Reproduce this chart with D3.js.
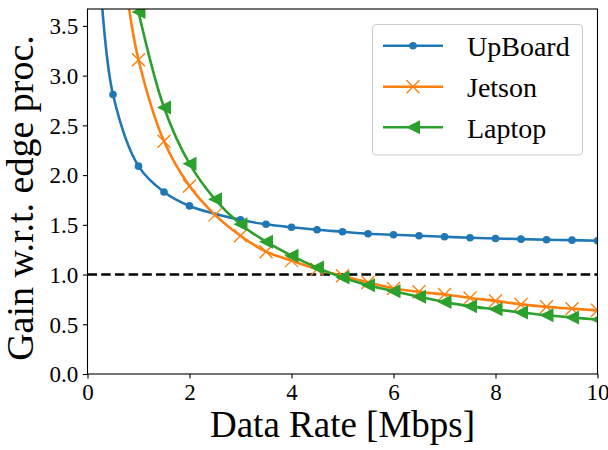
<!DOCTYPE html>
<html>
<head>
<meta charset="utf-8">
<script src="https://cdn.jsdelivr.net/npm/d3@7"></script>
<style>
  html, body { margin: 0; padding: 0; background: #fff; }
  svg { display: block; }
  text { font-family: "Liberation Serif", "Times New Roman", serif; fill: #000; }
</style>
</head>
<body>
<svg id="chart" width="608" height="450"></svg>
<script>
// Gain with respect to edge processing vs. data rate, per device
const upboardRates = [0.5, 1, 1.5, 2, 3, 3.5, 4, 4.5, 5, 5.5, 6, 6.5, 7, 7.5, 8, 8.5, 9, 9.5, 10];
const upboardGain  = [2.81, 2.09, 1.83, 1.69, 1.55, 1.505, 1.475, 1.45, 1.43, 1.41, 1.40, 1.39, 1.38, 1.37, 1.363, 1.356, 1.35, 1.346, 1.34];
const upboardLead  = [0.28, 3.75];

const jetsonRates = [1, 1.5, 2, 2.5, 3, 3.5, 4, 4.5, 5, 5.5, 6, 6.5, 7, 7.5, 8, 8.5, 9, 9.5, 10];
const jetsonGain  = [3.16, 2.34, 1.89, 1.60, 1.39, 1.23, 1.14, 1.054, 0.987, 0.92, 0.86, 0.826, 0.80, 0.765, 0.735, 0.70, 0.675, 0.657, 0.64];
const jetsonLead  = [0.8, 3.73];

const laptopRates = [1, 1.5, 2, 2.5, 3, 3.5, 4, 4.5, 5, 5.5, 6, 6.5, 7, 7.5, 8, 8.5, 9, 9.5, 10];
const laptopGain  = [3.64, 2.68, 2.115, 1.756, 1.506, 1.33, 1.19, 1.07, 0.97, 0.893, 0.833, 0.777, 0.725, 0.68, 0.65, 0.618, 0.59, 0.568, 0.548];
const laptopLead  = [0.9, 3.9];

const seriesNames  = ["UpBoard", "Jetson", "Laptop"];
const seriesColors = ["#1f77b4", "#ff7f0e", "#2ca02c"];
const xTicks = [0, 2, 4, 6, 8, 10];
const yTicks = [0, 0.5, 1.0, 1.5, 2.0, 2.5, 3.0, 3.5];
const baseline = 1.0;

const series = [
  { name: seriesNames[0], color: seriesColors[0], marker: "circle", rates: upboardRates, gain: upboardGain, lead: upboardLead },
  { name: seriesNames[1], color: seriesColors[1], marker: "x",      rates: jetsonRates,  gain: jetsonGain,  lead: jetsonLead },
  { name: seriesNames[2], color: seriesColors[2], marker: "tri",    rates: laptopRates,  gain: laptopGain,  lead: laptopLead }
];

const svg = d3.select("#chart");
const plotLeft = 87.5, plotRight = 597.5, plotTop = 9, plotBottom = 374;

const x = d3.scaleLinear().domain([0, 10]).range([plotLeft, plotRight]);
const y = d3.scaleLinear().domain([0, 3.67]).range([plotBottom, plotTop]);

svg.append("defs").append("clipPath").attr("id", "plotClip")
  .append("rect").attr("x", plotLeft).attr("y", plotTop)
  .attr("width", plotRight - plotLeft).attr("height", plotBottom - plotTop);

const plot = svg.append("g").attr("clip-path", "url(#plotClip)");

// reference line at gain = 1
plot.append("line")
  .attr("x1", x(0)).attr("x2", x(10))
  .attr("y1", y(baseline)).attr("y2", y(baseline))
  .attr("stroke", "#000").attr("stroke-width", 2.6)
  .attr("stroke-dasharray", "9.5,4.2");

const line = d3.line()
  .x(d => x(d[0])).y(d => y(d[1]))
  .curve(d3.curveCatmullRom.alpha(0.5));

function drawMarker(g, type, color, cx, cy) {
  if (type === "circle") {
    g.append("circle").attr("cx", cx).attr("cy", cy).attr("r", 3.8).attr("fill", color);
  } else if (type === "x") {
    const s = 6.5;
    g.append("path")
      .attr("d", `M${cx - s},${cy - s}L${cx + s},${cy + s}M${cx - s},${cy + s}L${cx + s},${cy - s}`)
      .attr("stroke", color).attr("stroke-width", 1.4).attr("fill", "none");
  } else {
    const s = 7;
    g.append("path")
      .attr("d", `M${cx - s},${cy}L${cx + s},${cy - s}L${cx + s},${cy + s}Z`)
      .attr("fill", color);
  }
}

series.forEach(s => {
  const pts = [s.lead].concat(s.rates.map((r, i) => [r, s.gain[i]]));
  plot.append("path")
    .attr("d", line(pts))
    .attr("fill", "none")
    .attr("stroke", s.color)
    .attr("stroke-width", 2.6)
    .attr("stroke-linejoin", "round");
  const mg = plot.append("g");
  s.rates.forEach((r, i) => drawMarker(mg, s.marker, s.color, x(r), y(s.gain[i])));
});

// axes box
svg.append("rect")
  .attr("x", plotLeft).attr("y", plotTop)
  .attr("width", plotRight - plotLeft).attr("height", plotBottom - plotTop)
  .attr("fill", "none").attr("stroke", "#000").attr("stroke-width", 1.1);

const xAxis = svg.append("g").attr("transform", `translate(0,${plotBottom})`)
  .call(d3.axisBottom(x).tickValues(xTicks).tickFormat(d3.format("d")).tickSize(4.6).tickPadding(4.6).tickSizeOuter(0));
xAxis.select(".domain").remove();
xAxis.selectAll("line").attr("stroke", "#000").attr("stroke-width", 1.1);
xAxis.selectAll("text").attr("y", 26).attr("dy", 0).style("font-size", "23px")
  .style("font-family", "'Liberation Serif', serif").attr("fill", "#000");

const yAxis = svg.append("g").attr("transform", `translate(${plotLeft},0)`)
  .call(d3.axisLeft(y).tickValues(yTicks).tickFormat(d3.format(".1f")).tickSize(4.6).tickPadding(4.6).tickSizeOuter(0));
yAxis.select(".domain").remove();
yAxis.selectAll("line").attr("stroke", "#000").attr("stroke-width", 1.1);
yAxis.selectAll("text").attr("dy", "0.34em").style("font-size", "23px")
  .style("font-family", "'Liberation Serif', serif").attr("fill", "#000");

// axis titles
svg.append("text")
  .attr("x", (plotLeft + plotRight) / 2).attr("y", 437)
  .attr("text-anchor", "middle")
  .style("font-size", "37px")
  .text("Data Rate [Mbps]");

svg.append("text")
  .attr("transform", "translate(33,198) rotate(-90)")
  .attr("text-anchor", "middle")
  .style("font-size", "38px")
  .text("Gain w.r.t. edge proc.");

// legend
const legend = svg.append("g");
legend.append("rect")
  .attr("x", 372.5).attr("y", 24.5).attr("width", 210).attr("height", 130.5)
  .attr("rx", 4).attr("ry", 4)
  .attr("fill", "#fff").attr("fill-opacity", 0.8)
  .attr("stroke", "#cccccc").attr("stroke-width", 1.1);

const rowY = [45.7, 86.7, 127.3];
series.forEach((s, i) => {
  const g = legend.append("g");
  g.append("line")
    .attr("x1", 383).attr("x2", 443).attr("y1", rowY[i]).attr("y2", rowY[i])
    .attr("stroke", s.color).attr("stroke-width", 2.6);
  drawMarker(g, s.marker, s.color, 413, rowY[i]);
  g.append("text")
    .attr("x", 467).attr("y", rowY[i] + 10.3)
    .style("font-size", "28px")
    .text(s.name);
});
</script>
</body>
</html>
